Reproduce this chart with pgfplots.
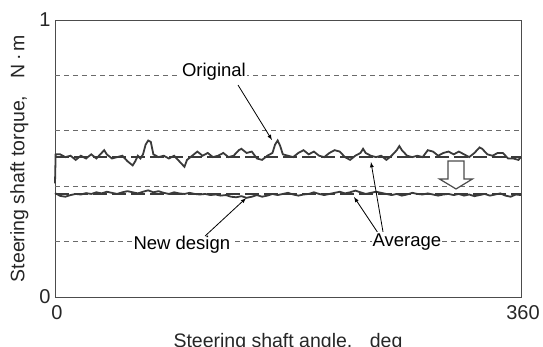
\documentclass[border=0pt]{standalone}
\usepackage{pgfplots}
\pgfplotsset{compat=1.18}
\usepackage{fontspec}
\setmainfont{Liberation Sans}
\definecolor{curve}{HTML}{3A3A3A}
\definecolor{gridc}{HTML}{6A6A6A}
\begin{document}
\begin{tikzpicture}
\begin{axis}[
  scale only axis, width=466pt, height=277pt,
  xmin=0, xmax=360, ymin=0, ymax=1,
  axis line style={draw=black!70, line width=0.9pt},
  xtick={0,360}, ytick={0,1},
  tick style={draw=none},
  extra y ticks={0.2,0.4,0.6,0.8},
  extra y tick labels={},
  extra y tick style={grid=major, major grid style={dashed, gridc, line width=0.7pt, dash pattern=on 5pt off 4pt}},
  tick label style={font=\fontsize{20}{22}\selectfont, text=black!85},
  /pgf/number format/assume math mode=true,
  xticklabel style={yshift=-5pt, xshift=2pt},
  yticklabel style={xshift=-1pt},
  xlabel={Steering shaft angle,\hspace{0.9em}deg},
  ylabel={Steering shaft torque,\hspace{0.9em}N\,·\,m},
  label style={font=\fontsize{19.5}{22}\selectfont, text=black!85},
  xlabel style={yshift=-7pt},
  ylabel style={yshift=4pt},
  clip=false,
]
% Original
\addplot[curve, line width=1.8pt] coordinates {
(0,0.41) (0.5,0.515) (4,0.515) (8,0.505) (12,0.51) (16,0.495) (20,0.51) (24,0.50) (28,0.515) (32,0.50)
(36,0.52) (38,0.53) (40,0.515) (44,0.50) (48,0.505) (52,0.51) (56,0.49) (60,0.475) (62,0.49) (64,0.51)
(66,0.50) (68,0.515) (70,0.55) (72,0.565) (74,0.56) (76,0.515) (80,0.505) (84,0.51) (88,0.50) (92,0.51)
(96,0.49) (100,0.47) (102,0.495) (106,0.51) (110,0.525) (114,0.51) (118,0.52) (122,0.505) (126,0.51) (130,0.52)
(134,0.505) (138,0.51) (142,0.53) (144,0.535) (148,0.52) (152,0.525) (156,0.50) (160,0.495) (164,0.51) (168,0.52)
(170,0.55) (172,0.565) (174,0.545) (176,0.515) (180,0.51) (184,0.505) (188,0.52) (192,0.53) (196,0.515) (200,0.525)
(204,0.51) (208,0.505) (212,0.52) (216,0.53) (220,0.525) (224,0.505) (228,0.495) (232,0.51) (236,0.52) (238,0.535)
(240,0.52) (244,0.51) (248,0.505) (252,0.51) (256,0.495) (260,0.51) (264,0.53) (266,0.545) (268,0.53) (272,0.51)
(276,0.505) (280,0.51) (284,0.505) (288,0.53) (292,0.525) (296,0.51) (300,0.52) (304,0.525) (308,0.515) (312,0.525)
(316,0.515) (320,0.505) (324,0.52) (328,0.54) (330,0.535) (334,0.515) (338,0.51) (342,0.52) (346,0.52) (350,0.50)
(354,0.50) (358,0.495) (360,0.505)
};
% New design
\addplot[curve, line width=1.8pt] coordinates {
(0,0.375) (4,0.365) (8,0.362) (12,0.368) (16,0.372) (20,0.370) (24,0.375) (28,0.372) (32,0.378) (36,0.374)
(40,0.380) (44,0.376) (48,0.372) (52,0.378) (56,0.382) (60,0.378) (64,0.374) (68,0.38) (72,0.385) (76,0.378)
(80,0.382) (84,0.376) (88,0.372) (92,0.378) (96,0.374) (100,0.372) (104,0.376) (108,0.372) (112,0.370) (116,0.372)
(120,0.368) (124,0.370) (128,0.366) (132,0.368) (136,0.362) (140,0.360) (144,0.364) (148,0.358) (152,0.362) (156,0.368)
(160,0.362) (164,0.366) (168,0.372) (172,0.368) (176,0.372) (180,0.376) (184,0.370) (188,0.366) (192,0.370) (196,0.372)
(200,0.378) (204,0.372) (208,0.368) (212,0.372) (216,0.376) (220,0.380) (224,0.374) (228,0.378) (232,0.384) (236,0.378)
(240,0.372) (244,0.376) (248,0.380) (252,0.376) (256,0.372) (260,0.368) (264,0.372) (268,0.366) (272,0.370) (276,0.376)
(280,0.372) (284,0.370) (288,0.374) (292,0.370) (296,0.366) (300,0.370) (304,0.372) (308,0.368) (312,0.372) (316,0.366)
(320,0.370) (324,0.364) (328,0.368) (332,0.372) (336,0.366) (340,0.370) (344,0.374) (348,0.366) (352,0.362) (356,0.370)
(360,0.368)
};
% Averages
\addplot[curve, line width=2.4pt, dash pattern=on 14pt off 5pt] coordinates {(0,0.505) (360,0.505)};
\addplot[curve, line width=2.4pt, dash pattern=on 14pt off 5pt] coordinates {(0,0.372) (360,0.372)};
% Annotations
\node[fill=white, inner sep=1pt, font=\fontsize{18.5}{21}\selectfont] at (axis cs:122.8,0.812) {Original};
\draw[-latex, line width=0.8pt] (axis cs:141.4,0.765) -- (axis cs:167.6,0.567);
\node[fill=white, inner sep=1pt, font=\fontsize{18.5}{21}\selectfont] at (axis cs:98,0.188) {New design};
\draw[-latex, line width=0.8pt] (axis cs:115.9,0.22) -- (axis cs:147.6,0.357);
\node[fill=white, inner sep=1pt, font=\fontsize{18.5}{21}\selectfont] at (axis cs:271.9,0.199) {Average};
\draw[-latex, line width=0.8pt] (axis cs:253.4,0.235) -- (axis cs:244.1,0.487);
\draw[-latex, line width=0.8pt] (axis cs:249,0.235) -- (axis cs:231,0.361);
\draw[fill=white, draw=black!70, line width=1.2pt]
  (axis cs:303.6,0.491) -- (axis cs:316,0.491) -- (axis cs:316,0.426) -- (axis cs:322.5,0.426)
  -- (axis cs:309.8,0.39) -- (axis cs:297,0.426) -- (axis cs:303.6,0.426) -- cycle;
\end{axis}
\pgfresetboundingbox
\path (current axis.south west) ++(-55pt,-50pt) rectangle ++(543pt,347pt);
\end{tikzpicture}
\end{document}
